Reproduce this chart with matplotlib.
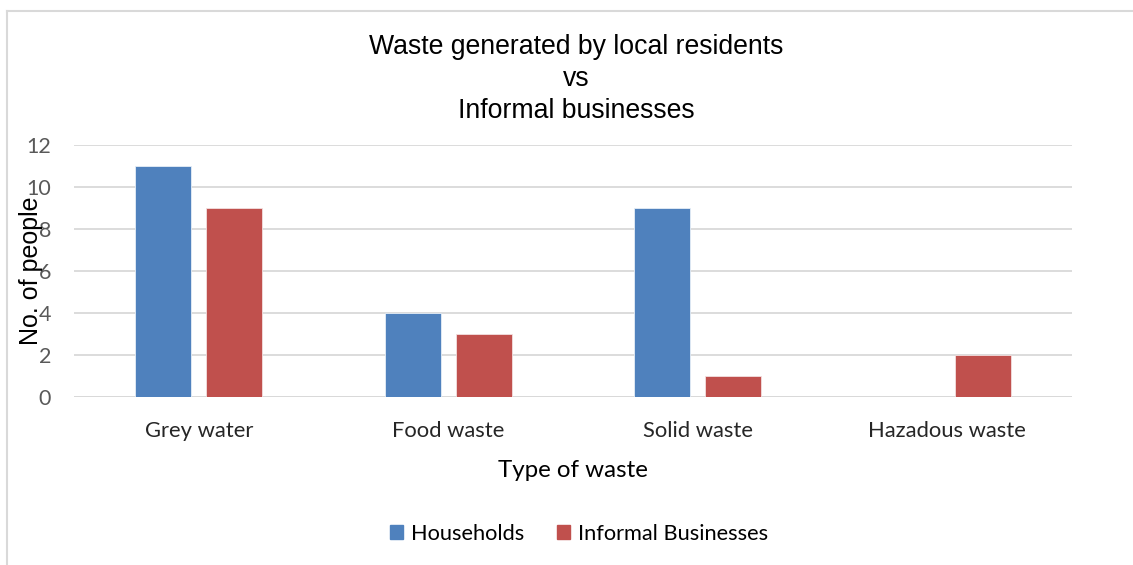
import matplotlib.pyplot as plt
from matplotlib.patches import Rectangle
from matplotlib.lines import Line2D
import numpy as np

categories = ["Grey water", "Food waste", "Solid waste", "Hazadous waste"]
households = [11, 4, 9, 0]
informal_businesses = [9, 3, 1, 2]
series_names = ["Households", "Informal Businesses"]
yticks = [0, 2, 4, 6, 8, 10, 12]

blue = "#4F81BD"
red = "#C0504D"
grid_col = "#D9D9D9"
tick_col = "#595959"

W, H = 1133, 565
fig = plt.figure(figsize=(W / 100, H / 100), dpi=100)

# chart frame (left and top edges only visible)
fig.add_artist(Line2D([7 / W, 7 / W], [0, 1 - 11 / H], transform=fig.transFigure,
                      color="#D9D9D9", lw=1.5))
fig.add_artist(Line2D([7 / W, 1], [1 - 11 / H, 1 - 11 / H], transform=fig.transFigure,
                      color="#D9D9D9", lw=1.5))

left, right = 74, 1072
top, bottom = 145, 397
ax = fig.add_axes([left / W, 1 - bottom / H, (right - left) / W, (bottom - top) / H])

x = np.arange(len(categories))
bw = 0.224
off = 0.142
ax.bar(x - off, households, bw, color=blue, edgecolor="#E6EEF7", linewidth=0.6, zorder=3)
ax.bar(x + off, informal_businesses, bw, color=red, edgecolor="#F3E0E0", linewidth=0.6, zorder=3)

ax.set_xlim(-0.5, len(categories) - 0.5)
ax.set_ylim(0, 12)
ax.set_yticks(yticks)
ax.yaxis.grid(True, color=grid_col, lw=1.3, zorder=0)
for s in ax.spines.values():
    s.set_visible(False)
ax.axhline(0, color=grid_col, lw=1.3, zorder=1)
ax.tick_params(axis="both", length=0, colors=tick_col)
ax.set_yticklabels([str(v) for v in yticks], fontfamily="Lato", fontsize=15.5, color=tick_col)
ax.tick_params(axis="y", pad=16.5)
ax.set_xticks(x)
ax.set_xticklabels(categories, fontfamily="Lato", fontsize=15.8, color="#262626")
ax.tick_params(axis="x", pad=17)

ax.set_xlabel("Type of waste", fontfamily="Lato", fontsize=17.4, color="#000000", labelpad=14)
fig.text(31 / W, 1 - 271 / H, "No. of people", rotation=90, ha="center", va="center",
         fontfamily="Liberation Sans", fontsize=18, color="#000000")

fig.text(576 / W, 1 - 79 / H, "Waste generated by local residents\nvs\nInformal businesses",
         ha="center", va="center", fontfamily="Liberation Sans", fontsize=19.2,
         linespacing=1.28, color="#000000")

handles = [Rectangle((0, 0), 1, 1, color=blue), Rectangle((0, 0), 1, 1, color=red)]
fig.legend(handles, series_names, loc="center", bbox_to_anchor=(579 / W, 1 - 534 / H),
           ncol=2, frameon=False, prop={"family": "Lato", "size": 15.7},
           handlelength=0.6, handleheight=0.6, handletextpad=0.35, columnspacing=1.5)

fig.savefig("out.png", dpi=100, facecolor="white")
